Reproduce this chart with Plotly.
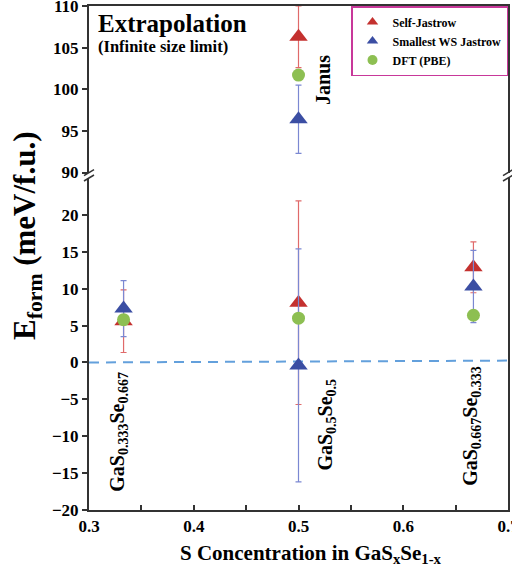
import plotly.graph_objects as go

# ---------------- data ----------------
x_alloy = [0.333, 0.5, 0.667]
self_alloy = [5.6, 8.1, 12.9]
self_alloy_err = [4.25, 13.8, 3.45]
ws_alloy = [7.3, -0.4, 10.3]
ws_alloy_err = [3.8, 15.8, 4.9]
dft_alloy = [5.8, 6.0, 6.4]

x_janus = [0.5]
self_janus = [106.3]
self_janus_err = [3.7]
ws_janus = [96.4]
ws_janus_err = [4.1]
dft_janus = [101.7]

zero_x = [0.3, 0.7]
zero_y = [0.0, 0.25]

series_names = ["Self-Jastrow", "Smallest WS Jastrow", "DFT (PBE)"]
x_ticks = [0.3, 0.4, 0.5, 0.6, 0.7]
y_ticks_low = [-20, -15, -10, -5, 0, 5, 10, 15, 20]
y_ticks_high = [90, 95, 100, 105, 110]

# ---------------- style ----------------
RED = "#c4312f"
RED_E = "#e06a6a"
BLUE = "#3b4ea3"
BLUE_E = "#7b88d2"
GREEN = "#8dbf52"
FONT = '"Liberation Serif", "Times New Roman", Times, "DejaVu Serif", serif'

fig = go.Figure()

fig.add_trace(go.Scatter(x=zero_x, y=zero_y, mode="lines", xaxis="x", yaxis="y",
                         line=dict(color="#63a0dc", width=2, dash="10px,7px"),
                         showlegend=False, hoverinfo="skip"))

def add_series(x, y, err, color, ecolor, symbol, size, xa, ya):
    kw = {}
    if err is not None:
        kw["error_y"] = dict(type="data", array=err, visible=True, color=ecolor,
                             thickness=1.2, width=3)
    fig.add_trace(go.Scatter(x=x, y=y, mode="markers", xaxis=xa, yaxis=ya,
                             marker=dict(color=color, symbol=symbol, size=size,
                                         line=dict(width=0)),
                             showlegend=False, **kw))

# bottom panel (alloys)
add_series(x_alloy, self_alloy, self_alloy_err, RED, RED_E, "triangle-up", 16, "x", "y")
add_series(x_alloy, ws_alloy, ws_alloy_err, BLUE, BLUE_E, "triangle-up", 16, "x", "y")
add_series(x_alloy, dft_alloy, None, GREEN, GREEN, "circle", 13, "x", "y")
# top panel (Janus)
add_series(x_janus, self_janus, self_janus_err, RED, RED_E, "triangle-up", 16, "x2", "y2")
add_series(x_janus, ws_janus, ws_janus_err, BLUE, BLUE_E, "triangle-up", 16, "x2", "y2")
add_series(x_janus, dft_janus, None, GREEN, GREEN, "circle", 13, "x2", "y2")

# legend entries
for name, color, sym in zip(series_names, [RED, BLUE, GREEN],
                            ["triangle-up", "triangle-up", "circle"]):
    fig.add_trace(go.Scatter(x=[None], y=[None], mode="markers", name=name,
                             xaxis="x", yaxis="y",
                             marker=dict(color=color, symbol=sym, size=10)))

tickfont = dict(family=FONT, size=17, color="black", weight="bold")

fig.update_layout(
    width=512, height=572,
    margin=dict(l=89, r=4, t=6, b=62, autoexpand=False),
    paper_bgcolor="white", plot_bgcolor="white",
    font=dict(family=FONT, color="black", weight="bold"),
    xaxis=dict(domain=[0, 1], anchor="y", range=[0.3, 0.7], tickvals=x_ticks,
               ticktext=[f"{v:g}" for v in x_ticks],
               ticks="inside", ticklen=5, tickwidth=1.5, tickcolor="#333",
               minor=dict(dtick=0.05, tick0=0.3, ticks="inside", ticklen=5,
                          tickwidth=1.5, tickcolor="#333"),
               showline=True, linecolor="#333", linewidth=2, mirror=False,
               showgrid=False, zeroline=False, tickfont=tickfont,
               ticklabelstandoff=0, ticklabeloverflow="allow"),
    xaxis2=dict(domain=[0, 1], anchor="y2", matches="x", range=[0.3, 0.7],
                side="top", showticklabels=False, ticks="",
                showline=True, linecolor="#333", linewidth=2, mirror=False,
                showgrid=False, zeroline=False),
    yaxis=dict(domain=[0, 0.6587], anchor="x", range=[-20, 25], tickvals=y_ticks_low,
               ticks="outside", ticklen=5, tickwidth=1.5, tickcolor="#333",
               showline=True, linecolor="#333", linewidth=2, mirror=True,
               showgrid=False, zeroline=False, tickfont=tickfont,
               ticklabeloverflow="allow"),
    yaxis2=dict(domain=[0.6696, 1], anchor="x2", range=[90, 110], tickvals=y_ticks_high,
                ticks="outside", ticklen=5, tickwidth=1.5, tickcolor="#333",
                showline=True, linecolor="#333", linewidth=2, mirror=True,
                showgrid=False, zeroline=False, tickfont=tickfont,
                ticklabeloverflow="allow"),
    legend=dict(x=1, y=1, xanchor="right", yanchor="top",
                bgcolor="white", bordercolor="#c8389a", borderwidth=1.5,
                font=dict(family=FONT, size=12, color="black", weight="bold"),
                tracegroupgap=0, itemwidth=30),
    showlegend=True,
)

ann = []
ann.append(dict(text="E<sub>form</sub> (meV/f.u.)", xref="paper", yref="paper",
                x=(27 - 89) / 419, y=(510 - 236) / 504, xanchor="center", yanchor="middle",
                textangle=-90, showarrow=False,
                font=dict(family=FONT, size=31, color="black", weight="bold")))
ann.append(dict(text="S Concentration in GaS<sub>x</sub>Se<sub>1-x</sub>",
                xref="paper", yref="paper", x=0.53, y=-0.087,
                xanchor="center", yanchor="middle", showarrow=False,
                font=dict(family=FONT, size=21, color="black", weight="bold")))
ann.append(dict(text="Extrapolation", xref="paper", yref="paper",
                x=(96 - 89) / 419, y=1 - 0.004, xanchor="left", yanchor="top",
                showarrow=False,
                font=dict(family=FONT, size=25, color="black", weight="bold")))
ann.append(dict(text="(Infinite size limit)", xref="paper", yref="paper",
                x=(96 - 89) / 419, y=(510 - 35) / 504, xanchor="left", yanchor="top",
                showarrow=False,
                font=dict(family=FONT, size=16.5, color="black", weight="bold")))
labels = [
    ("Janus", 0.5234, 101.1, "x2", "y2"),
    ("GaS<sub>0.333</sub>Se<sub>0.667</sub>", 0.3286, -9.4, "x", "y"),
    ("GaS<sub>0.5</sub>Se<sub>0.5</sub>", 0.527, -8.45, "x", "y"),
    ("GaS<sub>0.667</sub>Se<sub>0.333</sub>", 0.6656, -8.6, "x", "y"),
]
for t, lx, ly, xr, yr in labels:
    ann.append(dict(text=t, xref=xr, yref=yr, x=lx, y=ly, xanchor="center",
                    yanchor="middle", textangle=-90, showarrow=False,
                    font=dict(family=FONT, size=20, color="black", weight="bold")))
fig.update_layout(annotations=ann)

# axis break marks
pxx = 1 / 419
pxy = 1 / 504
shapes = []
for xc in [0, 1]:
    for yc in [0.6696, 0.6587]:
        shapes.append(dict(type="line", xref="paper", yref="paper",
                           x0=xc - 5 * pxx, y0=yc - 3 * pxy,
                           x1=xc + 5 * pxx, y1=yc + 3 * pxy,
                           line=dict(color="#333", width=1.5)))
fig.update_layout(shapes=shapes)

fig.write_html("out.html")
